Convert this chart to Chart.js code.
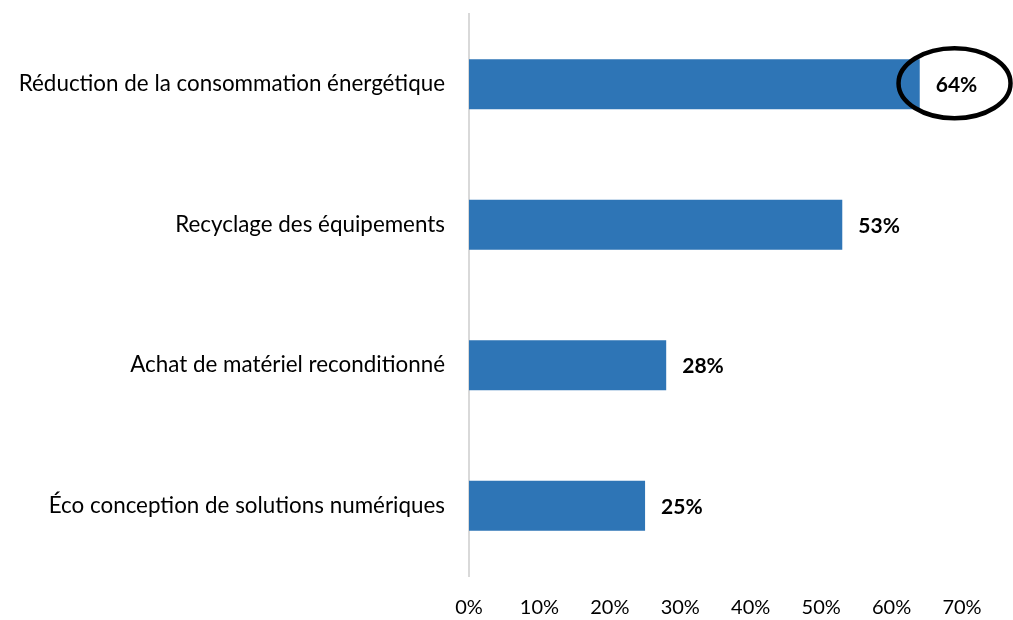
<!DOCTYPE html>
<html>
<head>
<meta charset="utf-8">
<script src="https://cdn.jsdelivr.net/npm/chart.js@4.4.1/dist/chart.umd.min.js"></script>
<style>
  html, body { margin: 0; padding: 0; background: #ffffff; }
  #wrap { width: 1013px; height: 620px; position: relative; }
</style>
</head>
<body>
<div id="wrap"><canvas id="c" width="1013" height="620"></canvas></div>
<script>
const categories = [
  "Réduction de la consommation énergétique",
  "Recyclage des équipements",
  "Achat de matériel reconditionné",
  "Éco conception de solutions numériques"
];
const values = [64, 53, 28, 25];
const tickValues = [0, 10, 20, 30, 40, 50, 60, 70];
const highlightIndex = 0;

const FONT = "Lato";
const BAR_COLOR = "#2E75B6";

const labelPlugin = {
  id: 'barLabels',
  afterDatasetsDraw(chart) {
    const ctx = chart.ctx;
    const meta = chart.getDatasetMeta(0);
    ctx.save();
    ctx.font = "bold 21px " + FONT;
    ctx.fillStyle = "#000000";
    ctx.textBaseline = "middle";
    ctx.textAlign = "left";
    meta.data.forEach((bar, i) => {
      const txt = values[i] + "%";
      const tx = bar.x + 16;
      ctx.fillText(txt, tx, bar.y + 1);
      if (i === highlightIndex) {
        const w = ctx.measureText(txt).width;
        const cx = tx + w / 2 - 2;
        ctx.beginPath();
        ctx.ellipse(cx, bar.y - 1, 56, 35, 0, 0, Math.PI * 2);
        ctx.lineWidth = 4.5;
        ctx.strokeStyle = "#000000";
        ctx.stroke();
      }
    });
    ctx.restore();
  }
};

new Chart(document.getElementById('c'), {
  type: 'bar',
  data: {
    labels: categories,
    datasets: [{
      data: values,
      backgroundColor: BAR_COLOR,
      borderWidth: 0,
      barPercentage: 0.355,
      categoryPercentage: 1.0
    }]
  },
  options: {
    indexAxis: 'y',
    responsive: false,
    animation: false,
    layout: { padding: { top: 14, right: 51, left: 0, bottom: 0 } },
    plugins: { legend: { display: false }, tooltip: { enabled: false } },
    scales: {
      x: {
        min: 0, max: 70,
        afterBuildTicks(scale) { scale.ticks = tickValues.map(v => ({ value: v })); },
        afterFit(scale) { scale.height = 44; },
        grid: { display: false, drawTicks: false },
        border: { display: false },
        ticks: {
          padding: 20,
          color: "#000000",
          font: { family: FONT, size: 20 },
          callback: (v) => v + "%"
        }
      },
      y: {
        afterFit(scale) { scale.width = 469; scale.paddingTop = 0; scale.paddingBottom = 0; },
        grid: { display: false, drawTicks: false },
        border: { display: true, color: "#d9d9d9", width: 2 },
        ticks: {
          padding: 24,
          color: "#000000",
          font: { family: FONT, size: 22.4 }
        }
      }
    }
  },
  plugins: [labelPlugin]
});
</script>
</body>
</html>
